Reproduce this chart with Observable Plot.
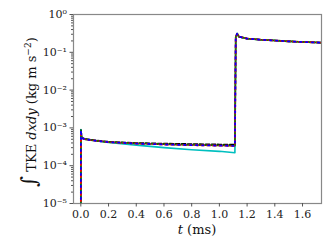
<!DOCTYPE html>
<html><head><meta charset="utf-8">
<script src="https://cdn.jsdelivr.net/npm/d3@7"></script>
<script src="https://cdn.jsdelivr.net/npm/@observablehq/plot@0.6"></script>
<style>body{margin:0;background:#fff}</style>
</head><body><div id="chart"></div>
<script>
const time = [0, 0.0005, 0.006, 0.03, 0.1, 0.2, 0.4, 0.6, 0.8, 1.0, 1.112, 1.118, 1.128, 1.14, 1.2, 1.3, 1.4, 1.5, 1.6, 1.74];
const cyanVals  = [1e-7, 9e-4, 5.5e-4, 5.1e-4, 4.6e-4, 4.1e-4, 3.5e-4, 3.0e-4, 2.65e-4, 2.4e-4, 2.2e-4, 0.25, 0.32, 0.26, 0.23, 0.215, 0.205, 0.195, 0.188, 0.18];
const blackVals = [1e-7, 9e-4, 5.5e-4, 5.1e-4, 4.7e-4, 4.3e-4, 4.0e-4, 3.85e-4, 3.75e-4, 3.65e-4, 3.6e-4, 0.25, 0.31, 0.26, 0.23, 0.215, 0.205, 0.195, 0.188, 0.18];
const redVals   = [1e-7, 8.5e-4, 5.4e-4, 5.0e-4, 4.6e-4, 4.2e-4, 3.85e-4, 3.65e-4, 3.5e-4, 3.4e-4, 3.35e-4, 0.25, 0.31, 0.26, 0.23, 0.215, 0.205, 0.195, 0.188, 0.18];
const blueVals  = [1e-7, 8.8e-4, 5.4e-4, 5.0e-4, 4.6e-4, 4.2e-4, 3.85e-4, 3.65e-4, 3.5e-4, 3.4e-4, 3.35e-4, 0.25, 0.31, 0.26, 0.23, 0.215, 0.205, 0.195, 0.188, 0.18];
const greenVals = [1e-7, 8.6e-4, 5.4e-4, 5.0e-4, 4.6e-4, 4.2e-4, 3.9e-4, 3.7e-4, 3.55e-4, 3.45e-4, 3.4e-4, 0.25, 0.31, 0.26, 0.23, 0.215, 0.205, 0.195, 0.188, 0.18];
const xTicks = [0, 0.2, 0.4, 0.6, 0.8, 1.0, 1.2, 1.4, 1.6];
const yTicks = [1e-5, 1e-4, 1e-3, 1e-2, 1e-1, 1];
const yTickLabels = ["10⁻⁵", "10⁻⁴", "10⁻³", "10⁻²", "10⁻¹", "10⁰"];

const rows = (vals) => time.map((t, i) => ({t, v: vals[i]}));
const minor = [];
for (let e = -5; e < 0; e++) for (let m = 2; m <= 9; m++) minor.push(m * Math.pow(10, e));

const font = "DejaVu Serif";
const plot = Plot.plot({
  width: 332, height: 249,
  marginLeft: 73, marginRight: 11, marginTop: 14, marginBottom: 46,
  style: {fontFamily: font, fontSize: "11px", background: "#fff"},
  x: {domain: [-0.053, 1.737]},
  y: {type: "log", domain: [1e-5, 1]},
  marks: [
    Plot.line(rows(cyanVals), {x: "t", y: "v", stroke: "#00bfbf", strokeWidth: 1.6, clip: true}),
    Plot.line(rows(blackVals), {x: "t", y: "v", stroke: "#000", strokeWidth: 1.6, strokeDasharray: "4,2", clip: true}),
    Plot.line(rows(greenVals), {x: "t", y: "v", stroke: "#008000", strokeWidth: 1.8, strokeDasharray: "2,4", strokeDashoffset: 2, clip: true}),
    Plot.line(rows(redVals), {x: "t", y: "v", stroke: "#ff0000", strokeWidth: 1.8, strokeDasharray: "3,3", clip: true}),
    Plot.line(rows(blueVals), {x: "t", y: "v", stroke: "#0000ff", strokeWidth: 1.8, strokeDasharray: "1.5,4.5", strokeDashoffset: 4, clip: true}),
    Plot.frame({stroke: "#888", strokeWidth: 1.2}),
    Plot.axisX({ticks: xTicks, tickFormat: d => d.toFixed(1), tickSize: 3.5, tickPadding: 3, label: null, stroke: "#555", fill: "#222"}),
    Plot.axisY({ticks: minor, tickSize: 2, text: null, label: null, stroke: "#555"}),
    Plot.axisY({ticks: yTicks, tickFormat: (d, i) => yTickLabels[yTicks.indexOf(d)], tickSize: 3.5, tickPadding: 3, label: null, stroke: "#555", fill: "#222"})
  ]
});
document.getElementById("chart").appendChild(plot);

const svg = d3.select(plot);
// x label
const xl = svg.append("text").attr("x", 197).attr("y", 234).attr("text-anchor", "middle")
  .attr("font-family", font).attr("font-size", 13).attr("fill", "#111");
xl.append("tspan").attr("font-style", "italic").text("t");
xl.append("tspan").text(" (ms)");
// y label
const yl = svg.append("text").attr("transform", "translate(36,112) rotate(-90)").attr("text-anchor", "middle")
  .attr("font-family", font).attr("font-size", 13).attr("fill", "#111");
yl.append("tspan").attr("font-size", 21).text("∫");
yl.append("tspan").text(" TKE ");
yl.append("tspan").attr("font-style", "italic").text("dxdy");
yl.append("tspan").text(" (kg m s");
yl.append("tspan").attr("font-size", 9).attr("dy", -5).text("−2");
yl.append("tspan").attr("dy", 5).text(")");
</script>
</body></html>
